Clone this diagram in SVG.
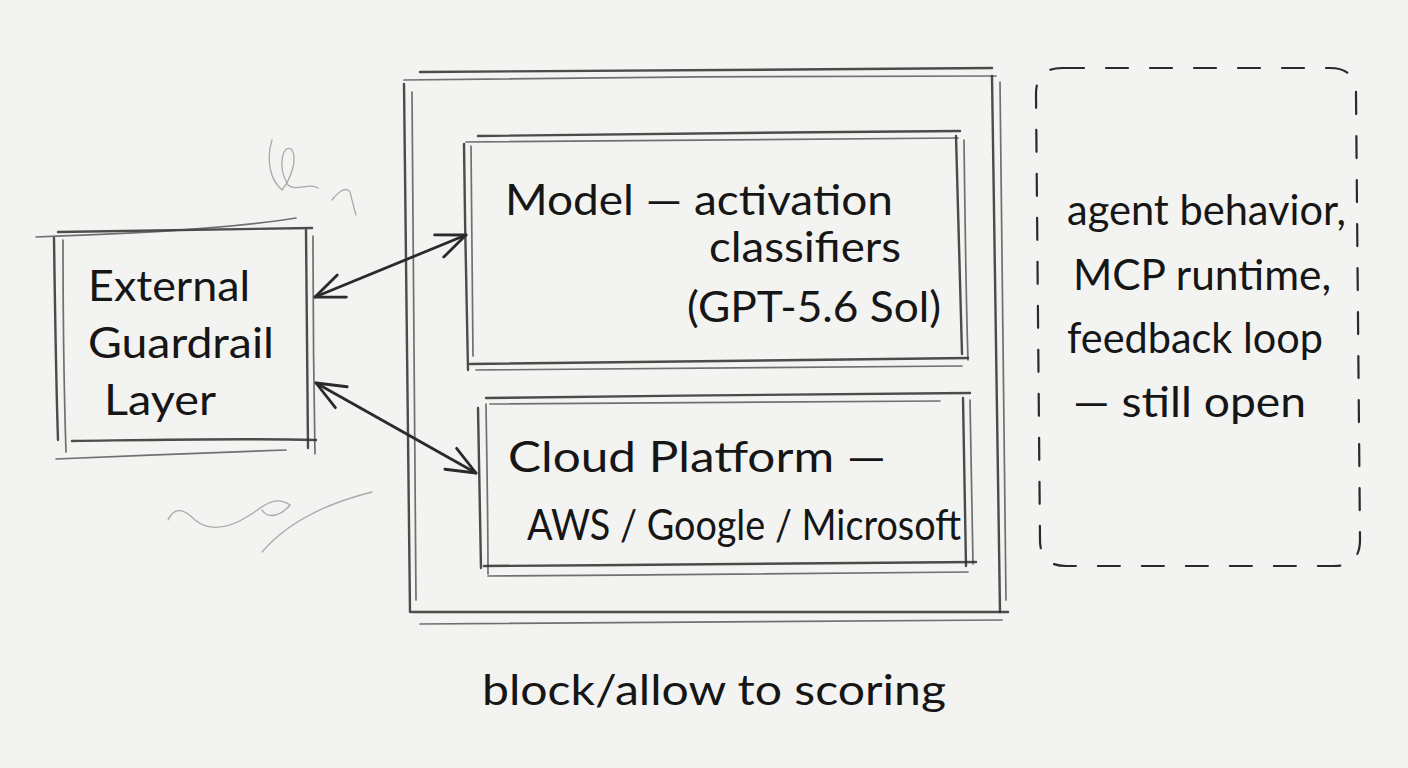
<svg xmlns="http://www.w3.org/2000/svg" width="1408" height="768" viewBox="0 0 1408 768">
<defs>
<style>
.pen{fill:none;stroke:#2e2e2e;stroke-width:2.4;stroke-linecap:round;stroke-linejoin:round;opacity:.85}
.pen2{fill:none;stroke:#444;stroke-width:1.7;stroke-linecap:round;opacity:.75}
.dash{fill:none;stroke:#2a2a2a;stroke-width:2.2;stroke-dasharray:22 22;stroke-linecap:round}
.arrow{fill:none;stroke:#2a2a2a;stroke-width:2.8;stroke-linecap:round}
.scrib{fill:none;stroke:#8a8a8a;stroke-width:1.3;stroke-linecap:round;opacity:.7}
.t{font-family:Lato,"Open Sans","Liberation Sans",sans-serif;font-size:42px;font-weight:400;fill:#161616}
</style>
<marker id="head" viewBox="0 0 34 34" refX="32" refY="17" markerWidth="34" markerHeight="34" markerUnits="userSpaceOnUse" orient="auto-start-reverse">
<path d="M3 5 L32 17 L3 29" fill="none" stroke="#2a2a2a" stroke-width="2.8" stroke-linecap="round" stroke-linejoin="round"/>
</marker>
</defs>
<rect x="0" y="0" width="1408" height="768" fill="#f3f3f1"/>

<g id="scribbles">
<path class="scrib" d="M272 140 C266 160 270 180 282 190 C290 180 298 160 292 150 C284 142 276 165 288 185 C296 192 310 182 318 188"/>
<path class="scrib" d="M332 200 C338 192 346 186 350 192 C352 200 354 208 356 215"/>
<path class="scrib" d="M168 520 C175 505 185 510 195 520 C210 532 230 528 250 515 C265 505 275 495 290 505 C282 515 268 520 262 510"/>
<path class="scrib" d="M262 552 C285 525 320 505 372 492"/>
</g>

<g id="node-container">
<path class="pen" d="M420 72 C600 70 800 70 992 68"/>
<path class="pen2" d="M404 80 C600 77 800 76 996 76"/>
<path class="pen" d="M404 84 C406 250 407 420 410 612"/>
<path class="pen2" d="M412 92 C413 260 414 430 416 600"/>
<path class="pen" d="M992 76 C994 250 996 430 1000 612"/>
<path class="pen2" d="M1000 82 C1002 260 1004 440 1006 600"/>
<path class="pen" d="M412 612 C600 611 800 612 1008 612"/>
<path class="pen2" d="M420 624 C620 622 820 622 1002 620"/>
</g>

<g id="node-external">
<path class="pen" d="M58 232 C150 230 240 229 312 228"/>
<path class="pen2" d="M36 237 C120 234 220 230 296 218"/>
<path class="pen" d="M54 238 C55 310 56 380 58 440"/>
<path class="pen2" d="M63 240 C63 320 64 390 66 452"/>
<path class="pen" d="M306 230 C307 310 307 380 308 448"/>
<path class="pen2" d="M313 236 C313 320 314 400 315 454"/>
<path class="pen" d="M72 441 C150 440 240 438 316 440"/>
<path class="pen2" d="M56 459 C130 456 220 452 286 450"/>
<text class="t" x="88" y="301" textLength="162" lengthAdjust="spacingAndGlyphs">External</text>
<text class="t" x="88" y="358" textLength="186" lengthAdjust="spacingAndGlyphs">Guardrail</text>
<text class="t" x="104" y="415" textLength="112" lengthAdjust="spacingAndGlyphs">Layer</text>
</g>

<g id="node-model">
<path class="pen" d="M478 136 C650 134 800 132 960 131"/>
<path class="pen2" d="M466 142 C640 140 800 139 958 138"/>
<path class="pen" d="M464 144 C465 220 466 290 468 370"/>
<path class="pen2" d="M471 146 C472 230 472 300 473 356"/>
<path class="pen" d="M956 136 C958 220 960 290 962 354"/>
<path class="pen2" d="M964 140 C965 220 966 300 968 360"/>
<path class="pen" d="M470 364 C650 362 800 360 968 358"/>
<path class="pen2" d="M476 370 C650 369 820 368 962 366"/>
<text class="t" x="505" y="215" textLength="388" lengthAdjust="spacingAndGlyphs">Model — activation</text>
<text class="t" x="709" y="262" textLength="192" lengthAdjust="spacingAndGlyphs">classifiers</text>
<text class="t" x="687" y="322" textLength="254" lengthAdjust="spacingAndGlyphs">(GPT-5.6 Sol)</text>
</g>

<g id="node-cloud">
<path class="pen" d="M486 398 C650 396 800 394 970 393"/>
<path class="pen2" d="M490 404 C650 402 800 402 940 401"/>
<path class="pen" d="M478 408 C479 470 480 520 481 568"/>
<path class="pen2" d="M486 404 C487 470 488 520 488 574"/>
<path class="pen" d="M963 398 C964 460 965 520 966 566"/>
<path class="pen2" d="M970 400 C971 460 972 520 973 564"/>
<path class="pen" d="M484 566 C650 565 820 563 976 562"/>
<path class="pen2" d="M488 576 C650 575 820 574 968 572"/>
<text class="t" x="508" y="472" textLength="378" lengthAdjust="spacingAndGlyphs">Cloud Platform —</text>
<text class="t" x="527" y="540" textLength="434" lengthAdjust="spacingAndGlyphs">AWS / Google / Microsoft</text>
</g>

<g id="node-open">
<path class="dash" d="M1062 68 L1330 68 Q1356 68 1356 94 L1360 540 Q1360 566 1334 566 L1066 566 Q1040 566 1040 540 L1036 94 Q1036 68 1062 68 Z"/>
<text class="t" x="1067" y="225" textLength="279" lengthAdjust="spacingAndGlyphs">agent behavior,</text>
<text class="t" x="1073" y="290" textLength="258" lengthAdjust="spacingAndGlyphs">MCP runtime,</text>
<text class="t" x="1067" y="353" textLength="256" lengthAdjust="spacingAndGlyphs">feedback loop</text>
<text class="t" x="1073" y="417" textLength="233" lengthAdjust="spacingAndGlyphs">— still open</text>
</g>

<g id="label-scoring">
<text class="t" x="482" y="705" textLength="464" lengthAdjust="spacingAndGlyphs">block/allow to scoring</text>
</g>

<g id="connectors">
<path class="arrow" d="M315 297 L466 235" marker-start="url(#head)" marker-end="url(#head)"/>
<path class="arrow" d="M316 383 L476 473" marker-start="url(#head)" marker-end="url(#head)"/>
</g>
</svg>
